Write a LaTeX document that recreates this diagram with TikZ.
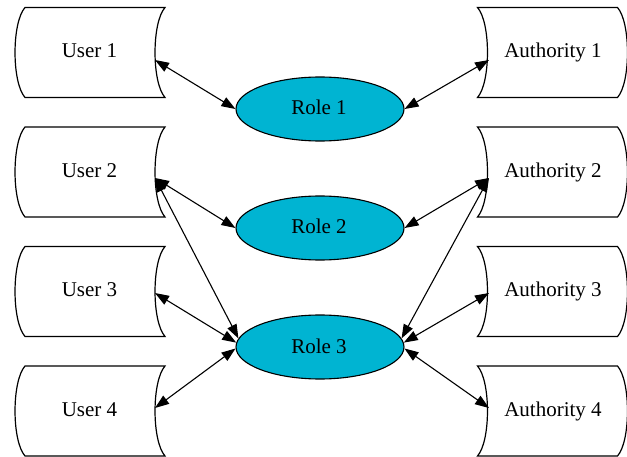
\documentclass[tikz,border=0pt]{standalone}
\usepackage{fontspec}
\setmainfont{Liberation Serif}
\usetikzlibrary{arrows.meta,shapes.geometric}
\definecolor{rolecyan}{RGB}{0,180,210}
\tikzset{
  store/.style={draw=black,line width=1.2pt,line join=miter},
  lbl/.style={inner sep=0pt,anchor=base,font=\fontsize{21}{24}\selectfont},
  role/.style={ellipse,draw=black,line width=1.1pt,fill=rolecyan,minimum width=168pt,minimum height=64pt,inner sep=0pt},
  rolelbl/.style={inner sep=0pt,anchor=base,font=\fontsize{21}{24}\selectfont},
  link/.style={line width=1.1pt,{Triangle[length=14pt,width=10pt]}-{Triangle[length=14pt,width=10pt]}}
}
% user box: both side arcs bulge to the left
\newcommand{\userbox}[2]{%
  \draw[store] ({#1-70},{#2-45}) -- ({#1+70},{#2-45})
    .. controls ({#1+56.7},{#2-30}) and ({#1+56.7},{#2+30}) .. ({#1+70},{#2+45})
    -- ({#1-70},{#2+45})
    .. controls ({#1-83.3},{#2+30}) and ({#1-83.3},{#2-30}) .. cycle;}
% authority box: both side arcs bulge to the right
\newcommand{\authbox}[2]{%
  \draw[store] ({#1-70},{#2-45}) -- ({#1+70},{#2-45})
    .. controls ({#1+83.3},{#2-30}) and ({#1+83.3},{#2+30}) .. ({#1+70},{#2+45})
    -- ({#1-70},{#2+45})
    .. controls ({#1-56.7},{#2+30}) and ({#1-56.7},{#2-30}) .. cycle;}
\begin{document}
\begin{tikzpicture}[x=1pt,y=-1pt]
\useasboundingbox (0,0) rectangle (627,457);
\userbox{95}{52.5}
\userbox{95}{172}
\userbox{95}{291.5}
\userbox{95}{411}
\authbox{547.5}{52.5}
\authbox{547.5}{172}
\authbox{547.5}{291.5}
\authbox{547.5}{411}
\node[lbl] (u1) at (89.5,58) {User 1};
\node[lbl] (u2) at (89.5,177.5) {User 2};
\node[lbl] (u3) at (89.5,297) {User 3};
\node[lbl] (u4) at (89.5,416.5) {User 4};
\node[lbl] (a1) at (553,58) {Authority 1};
\node[lbl] (a2) at (553,177.5) {Authority 2};
\node[lbl] (a3) at (553,297) {Authority 3};
\node[lbl] (a4) at (553,416.5) {Authority 4};
\node[role] (r1) at (320,109) {};
\node[role] (r2) at (320,228) {};
\node[role] (r3) at (320,347) {};
\node[rolelbl] (t1) at (319,115) {Role 1};
\node[rolelbl] (t2) at (319,234) {Role 2};
\node[rolelbl] (t3) at (319,353) {Role 3};
\coordinate (pu1) at (155,60);
\coordinate (pu2) at (155,178);
\coordinate (pu3) at (155,293);
\coordinate (pu4) at (155,408);
\coordinate (pa1) at (489,60);
\coordinate (pa2) at (489,178);
\coordinate (pa3) at (489,293);
\coordinate (pa4) at (489,408);
\draw[link] (pu1) -- (r1.west);
\draw[link] (pu2) -- (r2.west);
\draw[link] (pu2) -- (r3.174);
\draw[link] (pu3) -- (r3.177);
\draw[link] (pu4) -- (r3.181);
\draw[link] (pa1) -- (r1.east);
\draw[link] (pa2) -- (r2.east);
\draw[link] (pa2) -- (r3.6);
\draw[link] (pa3) -- (r3.3);
\draw[link] (pa4) -- (r3.-1);
\end{tikzpicture}
\end{document}
